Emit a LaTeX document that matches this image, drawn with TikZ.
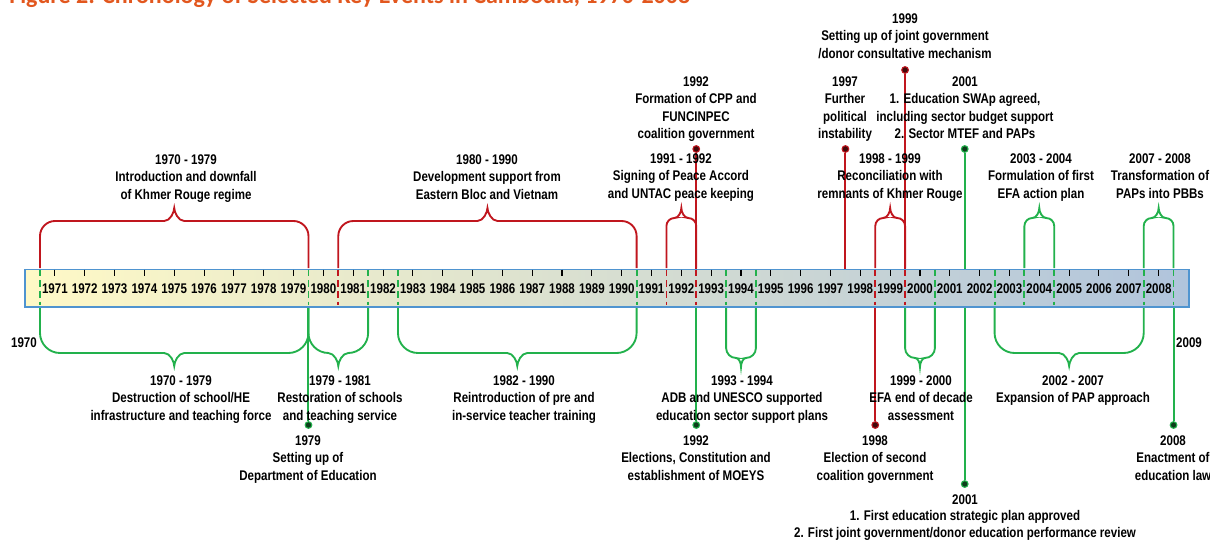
\documentclass[tikz,border=0pt]{standalone}
\usepackage{fontspec}
\setmainfont{Liberation Sans}[FakeStretch=0.825]
\newfontfamily\titlefont{Carlito}
\definecolor{kred}{HTML}{C0161E}
\definecolor{kgreen}{HTML}{22B14C}
\definecolor{kblue}{HTML}{4F94D0}
\definecolor{korange}{HTML}{E2571E}
\definecolor{barL}{HTML}{FFF9C6}
\definecolor{barM}{HTML}{D9DDCF}
\definecolor{barR}{HTML}{B0C4DC}
\newcommand\KBrace[8]{% color, x1, x2, y0, yh, yt, r, d
  \pgfmathsetmacro\bxa{#2}\pgfmathsetmacro\bxb{#3}
  \pgfmathsetmacro\bxm{(\bxa+\bxb)/2}
  \pgfmathsetmacro\bs{ifthenelse(#4>#5,1,-1)}
  \pgfmathsetmacro\bya{#5+\bs*#7}
  \pgfmathsetmacro\byb{#5+\bs*0.45*#7}
  \pgfmathsetmacro\byt{#6+\bs*4}
  \draw[bracel,#1] (\bxa,#4) -- (\bxa,\bya)
    .. controls (\bxa,\byb) and ({\bxa+0.45*#7},#5) .. ({\bxa+#7},#5)
    -- ({\bxm-#8},#5)
    .. controls ({\bxm-0.4*#8},#5) and (\bxm,\byt) .. (\bxm,#6)
    .. controls (\bxm,\byt) and ({\bxm+0.4*#8},#5) .. ({\bxm+#8},#5)
    -- ({\bxb-#7},#5)
    .. controls ({\bxb-0.45*#7},#5) and (\bxb,\byb) .. (\bxb,\bya)
    -- (\bxb,#4);
}
\begin{document}
\begin{tikzpicture}[x=0.75pt,y=-0.75pt,
  declare function={B(\t)=40+29.83*(\t-1971);},
  lbl/.style={font=\bfseries\fontsize{10.5}{13.125}\selectfont, align=center, inner sep=0pt, anchor=north},
  yr/.style={font=\bfseries\fontsize{10.5}{12}\selectfont, inner sep=0pt},
  bracel/.style={line width=1.4pt},
  stem/.style={line width=1.5pt},
  dsh/.style={dash pattern=on 5pt off 3pt, line width=1.4pt},
  dot/.style={circle, inner sep=0pt, minimum size=5pt, draw=#1, fill=black!65!#1, line width=0.8pt},
  tick/.style={line width=0.8pt, black}]
\useasboundingbox (0,0) rectangle (1210,540);

% title (cut by the top edge)
\node[anchor=base west, inner sep=0pt, text=korange, font=\titlefont\bfseries\fontsize{18}{21}\selectfont] (title) at (9,3) {Figure 2: Chronology of Selected Key Events in Cambodia, 1970-2008};

% dots
\node[dot=kred] (d92t) at ({B(1993)},149) {};
\node[dot=kred] (d97t) at ({B(1998)},149) {};
\node[dot=kred] (d99t) at ({B(2000)},70) {};
\node[dot=kgreen] (d01t) at ({B(2002)},149) {};
\node[dot=kgreen] (d79b) at ({B(1980)},425) {};
\node[dot=kgreen] (d92b) at ({B(1993)},425) {};
\node[dot=kred] (d98b) at ({B(1999)},425) {};
\node[dot=kgreen] (d08b) at ({B(2009)},425) {};
\node[dot=kgreen] (d01b) at ({B(2002)},484) {};

\coordinate (m92) at ({B(1993)},287);
\coordinate (m97) at ({B(1998)},287);
\coordinate (m99) at ({B(2000)},287);
\coordinate (m79) at ({B(1980)},287);
\coordinate (m98) at ({B(1999)},287);
\coordinate (m08) at ({B(2009)},287);

% stems (under the bar)
\draw[stem,kred] (d92t) -- (m92);
\draw[stem,kred] (d97t) -- (m97);
\draw[stem,kred] (d99t) -- (m99);
\draw[stem,kgreen] (d01t) -- (d01b);
\draw[stem,kgreen] (m79) -- (d79b);
\draw[stem,kgreen] (m92) -- (d92b);
\draw[stem,kred] (m98) -- (d98b);
\draw[stem,kgreen] (m08) -- (d08b);

% braces above
\KBrace{kred}{B(1971)}{B(1980)}{268}{221}{208}{15}{10}
\KBrace{kred}{B(1981)}{B(1991)}{268}{221}{208}{15}{10}
\KBrace{kred}{B(1992)}{B(1993)}{268}{218}{208}{8}{7}
\KBrace{kred}{B(1999)}{B(2000)}{268}{218}{208}{8}{7}
\KBrace{kgreen}{B(2004)}{B(2005)}{268}{218}{208}{8}{7}
\KBrace{kgreen}{B(2008)}{B(2009)}{268}{218}{208}{8}{7}
% braces below
\KBrace{kgreen}{B(1971)}{B(1980)}{306}{353}{366}{20}{10}
\KBrace{kgreen}{B(1980)}{B(1982)}{306}{353}{366}{20}{10}
\KBrace{kgreen}{B(1983)}{B(1991)}{306}{353}{366}{20}{10}
\KBrace{kgreen}{B(1994)}{B(1995)}{306}{358}{367}{10}{5}
\KBrace{kgreen}{B(2000)}{B(2001)}{306}{358}{367}{10}{5}
\KBrace{kgreen}{B(2003)}{B(2008)}{306}{353}{366}{20}{10}

% the bar
\node[draw=kblue, line width=1.4pt, left color=barL, middle color=barM, right color=barR,
  minimum width=873pt, minimum height=28pt, inner sep=0pt, anchor=north west] (bar) at (24,268.5) {};

% ticks and years
\foreach \t in {1971,...,2008}{
  \draw[tick] ({B(\t)+14.9},269.5) -- ({B(\t)+14.9},276);
  \node[yr] (yl\t) at ({B(\t)+14.9},289) {\t};
}

% dashed markers inside the bar
\foreach \t in {1971,1980,1982,1983,1991,1994,1995,2001,2003,2004,2005,2008,2009}{
  \draw[dsh,kgreen] ({B(\t)},269.5) -- ({B(\t)},305);
}
\foreach \t in {1981,1992,1993,1999,2000}{
  \draw[dsh,kred] ({B(\t)},269.5) -- ({B(\t)},305);
}

% labels above
\node[lbl] (kr) at (186,154) {1970 - 1979\\Introduction and downfall\\of Khmer Rouge regime};
\node[lbl] (eb) at (487,154) {1980 - 1990\\Development support from\\Eastern Bloc and Vietnam};
\node[lbl] (pa) at (681,153) {1991 - 1992\\Signing of Peace Accord\\and UNTAC peace keeping};
\node[lbl] (cpp) at (696,76) {1992\\Formation of CPP and\\FUNCINPEC\\coalition government};
\node[lbl] (pi) at (845,76) {1997\\Further\\political\\instability};
\node[lbl] (rk) at (890,153) {1998 - 1999\\Reconciliation with\\remnants of Khmer Rouge};
\node[lbl] (jg) at (905,13) {1999\\Setting up of joint government\\/donor consultative mechanism};
\node[lbl] (swap) at (965,76) {2001\\1. Education SWAp agreed,\\including sector budget support\\2. Sector MTEF and PAPs};
\node[lbl] (efa) at (1041,153) {2003 - 2004\\Formulation of first\\EFA action plan};
\node[lbl] (pbb) at (1160,153) {2007 - 2008\\Transformation of\\PAPs into PBBs};

% labels below
\node[lbl] (ds) at (181,375) {1970 - 1979\\Destruction of school/HE\\infrastructure and teaching force};
\node[lbl] (rs) at (340,375) {1979 - 1981\\Restoration of schools\\and teaching service};
\node[lbl] (de) at (308,435) {1979\\Setting up of\\Department of Education};
\node[lbl] (tt) at (524,375) {1982 - 1990\\Reintroduction of pre and\\in-service teacher training};
\node[lbl] (adb) at (742,375) {1993 - 1994\\ADB and UNESCO supported\\education sector support plans};
\node[lbl] (el) at (696,435) {1992\\Elections, Constitution and\\establishment of MOEYS};
\node[lbl] (sc) at (875,435) {1998\\Election of second\\coalition government};
\node[lbl] (ea) at (921,375) {1999 - 2000\\EFA end of decade\\assessment};
\node[lbl] (pap) at (1073,375) {2002 - 2007\\Expansion of PAP approach};
\node[lbl, font=\bfseries\fontsize{10.5}{12.6}\selectfont] (esp) at (965,494) {2001\\1. First education strategic plan approved\\2. First joint government/donor education performance review};
\node[lbl] (law) at (1173,435) {2008\\Enactment of\\education law};
\node[yr] (y70) at (24,343) {1970};
\node[yr] (y09) at (1189,343) {2009};
\end{tikzpicture}
\end{document}
